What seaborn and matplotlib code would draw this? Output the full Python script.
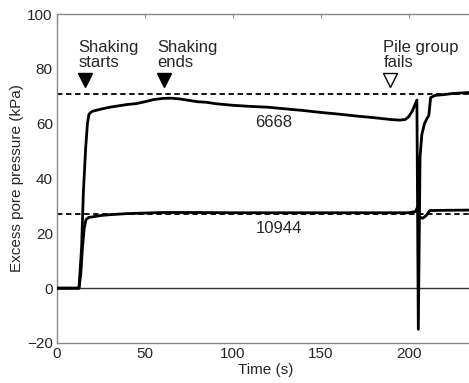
import numpy as np
import pandas as pd
import matplotlib
matplotlib.use("Agg")
import matplotlib.pyplot as plt
import seaborn as sns

# ---- data ----
t_6668 = [0, 5, 10, 12.5, 14, 15, 16.3, 17.3, 18.2, 20, 25, 30, 35, 40, 45, 50, 55, 60, 65,
          70, 75, 80, 85, 90, 95, 100, 110, 120, 130, 140, 150, 160, 170, 180, 190, 195,
          198, 200, 202, 204.7, 205.5, 206.5, 207.5, 209, 210.5, 211.5, 212.5, 215, 220,
          225, 230, 237]
p_6668 = [0, 0, 0, 0, 15, 35, 51, 60, 63.5, 64.5, 65.3, 66, 66.5, 67, 67.3, 68, 68.8, 69.2,
          69.3, 69, 68.5, 68, 67.8, 67.3, 67, 66.7, 66.3, 66, 65.4, 64.8, 64.1, 63.5, 62.8,
          62.2, 61.5, 61.3, 61.5, 62.5, 64.5, 68.6, -15, 48, 56, 60, 62, 63, 69.5, 70.3,
          70.6, 71, 71.2, 71.5]

t_10944 = [0, 5, 10, 12.5, 13.5, 14.5, 15.5, 16.5, 18, 20, 25, 30, 40, 50, 60, 80, 100, 120,
           140, 160, 180, 200, 204, 205, 206, 208, 210, 212, 220, 237]
p_10944 = [0, 0, 0, 0, 5, 15, 22, 25, 25.8, 26, 26.5, 26.8, 27.2, 27.4, 27.6, 27.6, 27.5,
           27.5, 27.5, 27.5, 27.5, 27.5, 28, 29.5, 26, 25.5, 26.5, 28.3, 28.4, 28.5]

ref_levels = [70.8, 27.2]
events_t = [16, 61, 189.6]
events_y = [75.8, 75.8, 75.8]
events_text = ["Shaking\nstarts", "Shaking\nends", "Pile group\nfails"]
series_labels = ["6668", "10944"]
series_label_pos = [(123, 60.5), (126.5, 21.7)]

x_ticks = [0, 50, 100, 150, 200]
y_ticks = [-20, 0, 20, 40, 60, 80, 100]

# ---- figure ----
sns.set_style("white")
plt.rcParams["font.family"] = ["Liberation Sans", "DejaVu Sans"]

fig = plt.figure(figsize=(4.69, 3.83), dpi=100)
ax = fig.add_axes([57 / 469, 40 / 383, 1 - 57 / 469 + 0.01, (343 - 14) / 383])

# zero line and reference dashed lines
ax.axhline(0, color="#333333", lw=1.0, zorder=1)
for lv in ref_levels:
    ax.axhline(lv, color="black", lw=1.3, ls=(0, (3, 2)), zorder=1)

df1 = pd.DataFrame({"t": t_6668, "p": p_6668})
df2 = pd.DataFrame({"t": t_10944, "p": p_10944})
sns.lineplot(data=df1, x="t", y="p", ax=ax, color="black", lw=2.0, sort=False, zorder=3)
sns.lineplot(data=df2, x="t", y="p", ax=ax, color="black", lw=2.0, sort=False, zorder=3)

# event markers
for i, (tx, ty, txt) in enumerate(zip(events_t, events_y, events_text)):
    filled = i < 2
    ax.plot([tx], [ty], marker="v", ms=9.5, color="black",
            mfc="black" if filled else "white", mec="black", mew=1.0, zorder=4)
    ax.text(tx - 4, ty + 3.7, txt, ha="left", va="bottom", fontsize=12,
            linespacing=1.05)

for lab, (lx, ly) in zip(series_labels, series_label_pos):
    ax.text(lx, ly, lab, ha="center", va="center", fontsize=12)

ax.set_xlim(0, 237)
ax.set_ylim(-20, 100)
ax.set_xticks(x_ticks)
ax.set_yticks(y_ticks)
ax.set_xlabel("Time (s)", fontsize=11, labelpad=1)
ax.set_ylabel("Excess pore pressure (kPa)", fontsize=11, labelpad=2)
ax.tick_params(axis="both", direction="in", length=3, color="#888888",
               labelsize=11, top=True, pad=3)
for s in ["left", "bottom", "top"]:
    ax.spines[s].set_color("#888888")
    ax.spines[s].set_linewidth(1.0)
ax.spines["right"].set_visible(False)

fig.savefig("out.png", dpi=100)
